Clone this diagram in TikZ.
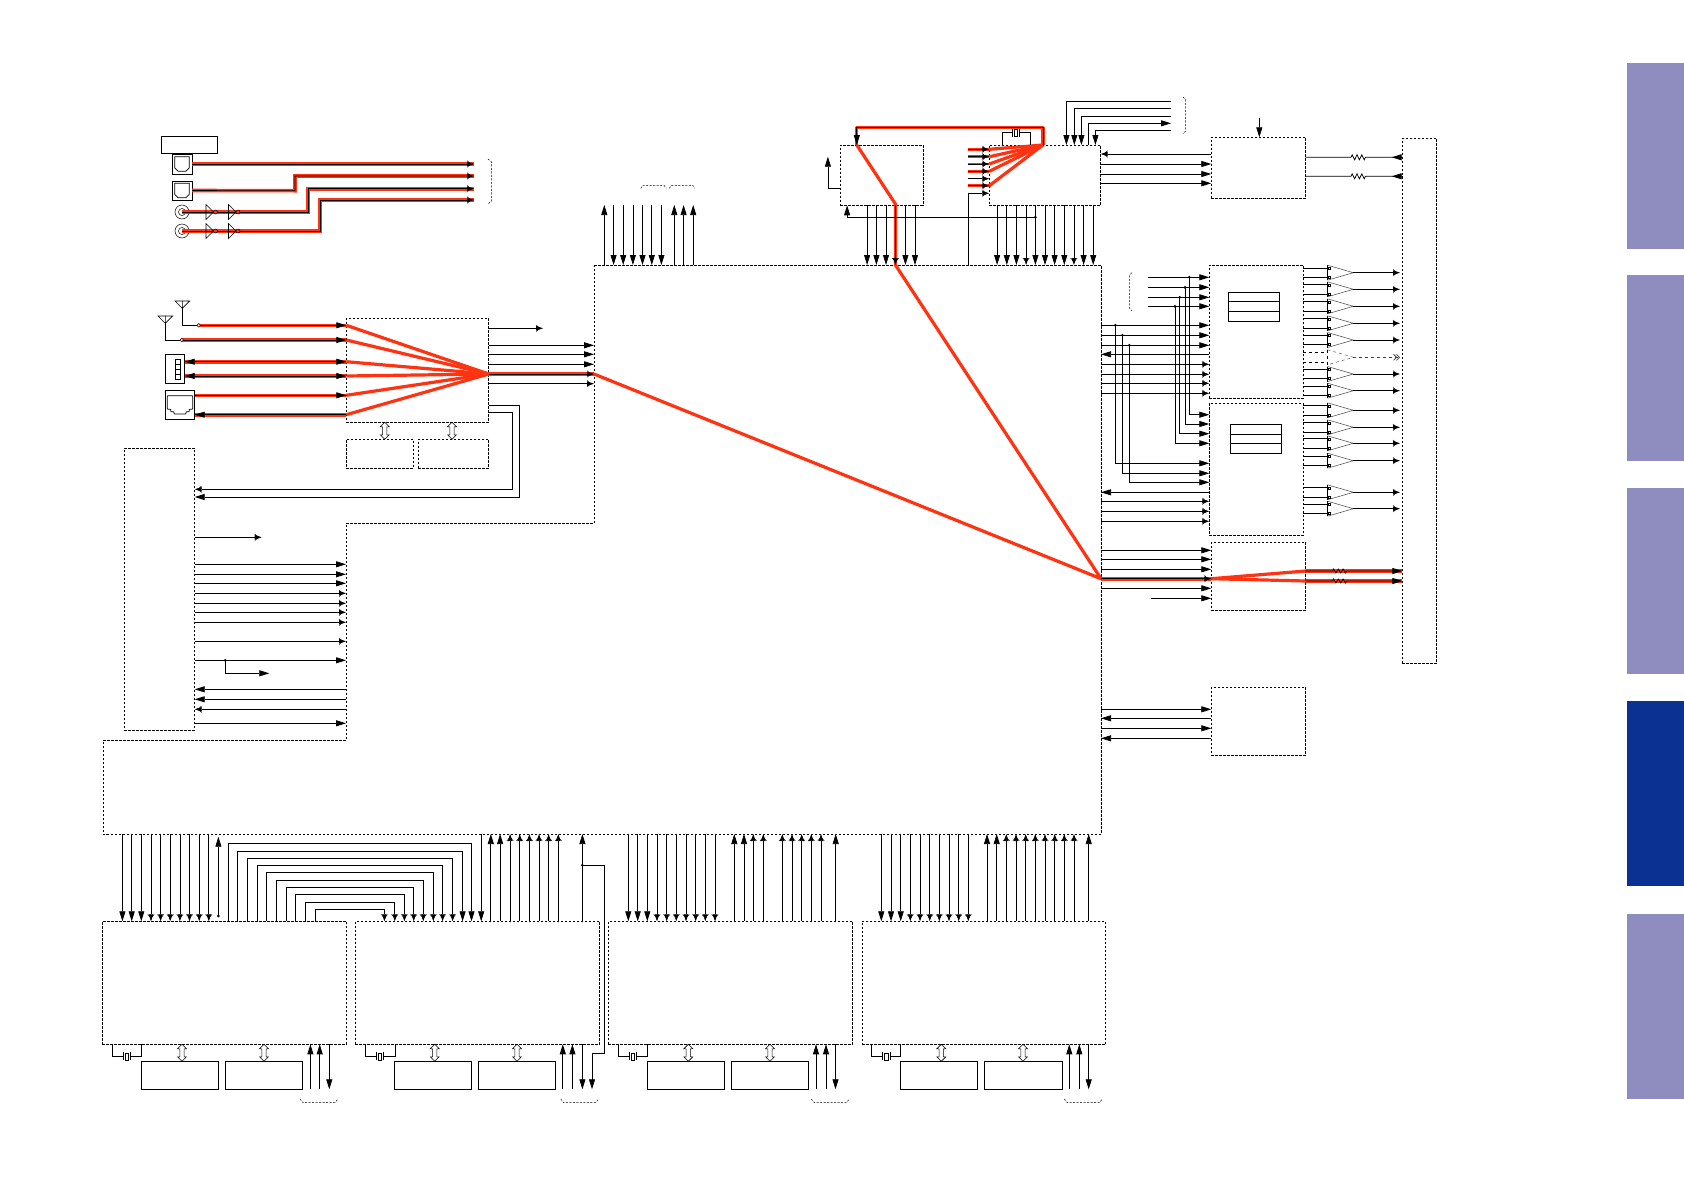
\documentclass[tikz,border=0pt]{standalone}
\usepackage{xcolor}
\definecolor{myred}{RGB}{255, 51, 17}
\definecolor{mytab}{RGB}{143, 141, 192}
\definecolor{mytabd}{RGB}{11, 49, 146}
\usetikzlibrary{arrows.meta, positioning, fit}
\tikzset{
    tipf/.tip={Triangle[length=10pt,width=6pt]},
    tipd/.tip={Straight Barb[length=3.5pt,width=6.5pt,line width=.5pt,sep=-4pt]Triangle[length=7pt,width=4.5pt]},
    sigwire/.style={draw, line width=.75pt},
    wiref/.style={sigwire, -{tipf}},
    wired/.style={sigwire, -{tipd}},
    redwire/.style={draw, line width=.6pt, preaction={draw=myred, line width=3.6pt, -}},
    redfan/.style={draw=myred, line width=3.2pt, line join=round},
    dashbox/.style={draw, dash pattern=on 2.5pt off 1.5pt, line width=.7pt, inner sep=0pt, outer sep=0pt},
    solidbox/.style={draw, line width=.75pt, inner sep=0pt, outer sep=0pt},
    bracket/.style={draw, dash pattern=on 2pt off 1.5pt, line width=.5pt},
    xtal/.style={draw, line width=.6pt, minimum width=3.5pt, minimum height=7pt, inner sep=0pt, outer sep=2pt},
    dotnode/.style={fill, circle, inner sep=0pt, minimum size=3pt}
}
\newcommand{\hbus}[3]{\draw[line width=.55pt] (#1,0 |- #2) -- ++(4.5,4.5) -- ++(-2.4,0) -- ([xshift=2.1pt,yshift=4.5pt]#1,0 |- #3) -- ++(2.4,0) -- (#1,0 |- #3) -- ++(-4.5,-4.5) -- ++(2.4,0) -- ([xshift=-2.1pt,yshift=-4.5pt]#1,0 |- #2) -- ++(-2.4,0) -- cycle;}
\begin{document}
\begin{tikzpicture}[x=1pt, y=-1pt]
    \useasboundingbox (0,0) rectangle (1684,1191);
    \foreach \ya/\yb/\col in {62.7/248.7/mytab, 274.7/461/mytab, 488/674/mytab, 701/886/mytabd, 914/1099/mytab}
    {
        \fill[\col] (1627,\ya) rectangle (1684,\yb);
    }
    \coordinate (mainN) at (0,265);
    \coordinate (mainS) at (0,834);
    \coordinate (mainE) at (1101,0);
    \coordinate (mainW) at (594,0);
    \coordinate (stepW) at (346,0);
    \draw[dashbox] (mainW |- mainN) -- (mainE |- mainN) -- (mainE |- mainS) -- (103,834) -- (103,740) -- (346,740) -- (stepW |- 0,523) -- (mainW |- 0,523) -- cycle;

    \node[solidbox, fit={(161,136) (217,153)}] (cardslot) {};
    \node[solidbox, fit={(172,154) (192,174)}] (optA) {};
    \node[solidbox, fit={(172,181) (192,200)}] (optB) {};
    \node[solidbox, fit={(165.3,354.3) (184.7,383.3)}] (usbport) {};
    \node[solidbox, fit={(165.3,390.3) (194.7,419.3)}] (lanport) {};
    \node[solidbox, fit={(175.3,359.3) (180,379.3)}] (usbpins) {};
    \node[circle, draw, line width=.5pt, minimum size=14pt, inner sep=0pt] (coaxA) at (182,212) {};
    \node[circle, draw, line width=.5pt, minimum size=14pt, inner sep=0pt] (coaxB) at (182,231) {};
    \node[dashbox, fit={(346.3,318.3) (488.7,422.3)}] (rfbox) {};
    \node[dashbox, fit={(346.3,439.3) (413.3,468.3)}] (romA) {};
    \node[dashbox, fit={(418.3,439.3) (488.7,468.3)}] (romB) {};
    \node[dashbox, fit={(124.3,448.3) (194.7,730)}] (pwrbox) {};
    \node[dashbox, fit={(840.4,145) (922.9,205.3)}] (dspbox) {};
    \node[dashbox, fit={(989.3,145) (1100.7,205.3)}] (codecbox) {};
    \node[dashbox, fit={(1211.3,137.3) (1305.7,198.3)}] (dacbox) {};
    \node[dashbox, fit={(1402.3,138.3) (1436.7,663.3)}] (conn) {};
    \node[dashbox, fit={(1209.3,265) (1303.3,398.3)}] (ampA) {};
    \node[dashbox, fit={(1209.3,403.3) (1303.3,535.3)}] (ampB) {};
    \node[dashbox, fit={(1211.3,542.3) (1305.7,610.3)}] (hpbox) {};
    \node[dashbox, fit={(1211.3,687.3) (1305.7,755.3)}] (subbox) {};
    \node[solidbox, fit={(1228.3,292.3) (1279.3,321.3)}] (tableA) {};
    \node[solidbox, fit={(1230.3,424.3) (1281.7,453.3)}] (tableB) {};
    \draw[sigwire] (tableA.west |- 0,301.3) -- (tableA.east |- 0,301.3) (tableA.west |- 0,311.3) -- (tableA.east |- 0,311.3);
    \draw[sigwire] (tableB.west |- 0,434.3) -- (tableB.east |- 0,434.3) (tableB.west |- 0,443.3) -- (tableB.east |- 0,443.3);
    \draw[sigwire] (usbpins.west |- 0,364.3) -- (usbpins.east |- 0,364.3) (usbpins.west |- 0,369.3) -- (usbpins.east |- 0,369.3) (usbpins.west |- 0,374.3) -- (usbpins.east |- 0,374.3);
    \draw[sigwire, rounded corners=.6pt] (167.3,395.7) -- (192.7,395.7) -- (192.7,409.3) -- (189.3,409.3) -- (189.3,411.7) -- (186,411.7) -- (186,414) -- (174,414) -- (174,411.7) -- (170.7,411.7) -- (170.7,409.3) -- (167.3,409.3) -- cycle;
    \foreach \opt in {optA, optB}
    {
        \draw[sigwire, shift={(\opt.center)}] (-7.2,-7.2) -- (7.2,-7.2) -- (7.2,4) -- (4,7.2) -- (-4,7.2) -- (-7.2,4) -- cycle;
    }
    \foreach \coax in {coaxA, coaxB}
    {
        \draw[line width=.5pt] (\coax.center) circle (3.5pt);
    }

    % red signal path
    \draw[redfan] (mainW |- 0,374) -- (mainE |- 0,578.7) -- (895.4,265) -- (895.4,204) -- (856.8,145);
    \draw[redfan] (856.8,145) -- (856.8,127.7) -- (1042.9,127.7) -- (1042.9,145);
    \foreach \py in {149.3,156.7,164,171.3,185.7}
    {
        \draw[redfan] (codecbox.west |- 0,\py) -- (1042.9,145);
        \draw[redfan, line width=2.6pt] (967.5,\py) -- (codecbox.west |- 0,\py);
    }
    \foreach \py in {325.3,340,361.7,376,395.3,414.7}
    {
        \draw[redfan] (rfbox.west |- 0,\py) -- (rfbox.east |- 0,374);
    }
    \draw[redfan] (hpbox.west |- 0,578.7) -- (hpbox.east |- 0,571);
    \draw[redfan] (hpbox.west |- 0,578.7) -- (hpbox.east |- 0,581);

    % rear inputs
    \draw[redwire, -{tipd}] (optA.east) -- (474,164);
    \draw[redwire, -{tipd}] (optB.east) -- (295,190.7) -- (295,176) -- (474,176);
    \draw[redwire, -{tipd}] (coaxA.center) -- (308,212) -- (308,188.7) -- (474,188.7);
    \draw[redwire, -{tipd}] (coaxB.center) -- (320,231) -- (320,200) -- (474,200);
    \foreach \py in {212,231}
    {
        \foreach \px in {206,228.5}
        {
            \draw[line width=.6pt] (\px,\py-7.5) -- (\px+7.5,\py) -- (\px,\py+7.5) -- cycle;
            \draw[line width=.5pt, fill=myred] (\px+9.5,\py) circle (2pt);
        }
    }
    \draw[bracket] (488,159) -- (491.5,162) -- (491.5,201) -- (488,204);

    % antennas and network
    \foreach \ant/\ax/\ay/\ex/\ey in {antA/182.3/301/198.7/325.3, antB/165.3/316/181.7/340}
    {
        \coordinate (\ant) at (\ax,\ay+7.3);
        \coordinate (\ant-end) at (\ex,\ey);
        \draw[line width=.6pt] (\ax-7.3,\ay) -- (\ax+7.3,\ay) -- (\ant) -- cycle (\ax,\ay) -- (\ant);
        \draw[sigwire] (\ant) |- (\ant-end);
        \draw[redwire, -{tipf}] (\ant-end) -- (rfbox.west |- \ant-end);
        \draw[line width=.5pt, fill=white] (\ant-end) circle (1.8pt);
    }
    \draw[redwire, {tipf}-{tipf}] (usbport.east |- 0,361.7) -- (rfbox.west |- 0,361.7);
    \draw[redwire, {tipf}-{tipf}] (usbport.east |- 0,376) -- (rfbox.west |- 0,376);
    \draw[redwire, -{tipf}] (lanport.east |- 0,395.3) -- (rfbox.west |- 0,395.3);
    \draw[redwire, -{tipf}] (rfbox.west |- 0,414.7) -- (lanport.east |- 0,414.7);
    \draw[wired] (rfbox.east |- 0,328.3) -- (543,328.3);
    \foreach \py in {345.3,354.3,364.3}
    {
        \draw[wiref] (rfbox.east |- 0,\py) -- (mainW |- 0,\py);
    }
    \draw[redwire, -{tipd}] (rfbox.east |- 0,374) -- (mainW |- 0,374);
    \draw[wired] (rfbox.east |- 0,383.7) -- (mainW |- 0,383.7);
    \hbus{384.7}{rfbox.south}{romA.north}
    \hbus{452}{rfbox.south}{romB.north}
    \draw[wiref] (rfbox.east |- 0,405.7) -- (519.3,405.7) -- (519.3,497) -- (pwrbox.east |- 0,497);
    \draw[wired] (rfbox.east |- 0,412.7) -- (512.7,412.7) -- (512.7,489.3) -- (pwrbox.east |- 0,489.3);

    % power block
    \draw[wired] (pwrbox.east |- 0,537.3) -- (261.7,537.3);
    \foreach \py/\tp in {564.3/f, 574.3/f, 583.3/f, 593.3/d, 603.3/d, 612.3/d, 622.3/d, 641.3/d, 660.3/f, 723.3/f}
    {
        \draw[wire\tp] (pwrbox.east |- 0,\py) -- (stepW |- 0,\py);
    }
    \foreach \py/\tp in {689.3/f, 699.3/f, 709.3/d}
    {
        \draw[wire\tp] (stepW |- 0,\py) -- (pwrbox.east |- 0,\py);
    }
    \node[dotnode] (pwrdot) at (225.3,660.3) {};
    \draw[wiref] (pwrdot.center) |- (269.3,673.3);

    % top of main block
    \foreach \px in {604.3,674.3,683.6,693.2}
    {
        \draw[wiref] (\px,0 |- mainN) -- (\px,205);
    }
    \foreach \px in {613.6,623.2,632.9,642.5,651.8,661.4}
    {
        \draw[wiref] (\px,205) -- (\px,0 |- mainN);
    }
    \draw[bracket] (640.7,188.3) -- (643,185.3) -- (664,185.3) -- (666.4,188.3);
    \draw[bracket] (669.3,188.3) -- (671.6,185.3) -- (692.7,185.3) -- (695,188.3);
    \foreach \px/\tp in {867.1/f, 876.4/f, 886/f, 905.4/f, 915/f}
    {
        \draw[wire\tp] (\px,0 |- dspbox.south) -- (\px,0 |- mainN);
    }
    \draw[wired] (895.4,0 |- dspbox.south) -- (895.4,0 |- mainN);
    \foreach \px/\tp in {997.1/f, 1006.8/f, 1016.4/f, 1026.1/d, 1035.4/f, 1045/f, 1054.6/f, 1064.3/f, 1073.9/d, 1083.6/f, 1093.2/f}
    {
        \draw[wire\tp] (\px,0 |- codecbox.south) -- (\px,0 |- mainN);
    }
    \draw[sigwire, -{tipf}] (1042.9,145) -- (1042.9,127.7) -- (856.8,127.7) -- (856.8,145);
    \draw[wiref] (dspbox.west |- 0,188.3) -- (827.9,188.3) -- (827.9,156.7);
    \node[dotnode] (codecdot) at (1035.4,217.3) {};
    \draw[wiref] (codecdot.center) -- (847.1,217.3) -- (847.1,0 |- dspbox.south);
    \draw[wired] (968.2,0 |- mainN) |- (codecbox.west |- 0,193.3);
    \foreach \py in {149.3,156.7,164,171.3,178.7,185.7}
    {
        \draw[wired] (967.5,\py) -- (codecbox.west |- 0,\py);
    }
    \node[xtal] (codecx) at (1015.7,132.7) {};
    \draw[sigwire, line width=.6pt] (1001.8,0 |- codecbox.north) |- (codecx.west);
    \draw[sigwire, line width=.6pt] (1030.7,0 |- codecbox.north) |- (codecx.east);
    \draw[line width=.6pt] (codecx.west) ++(0,-4) -- ++(0,8) (codecx.east) ++(0,-4) -- ++(0,8);
    \foreach \px/\py in {1066.4/101.7, 1074.3/108.7, 1081.4/116, 1095.4/130.5}
    {
        \draw[wiref] (1171,\py) -| (\px,0 |- codecbox.north);
    }
    \draw[wiref] (1088.2,0 |- codecbox.north) |- (1171,123.3);
    \draw[bracket] (1183,97) -- (1185.7,100) -- (1185.7,131) -- (1183,134);

    % dac and speaker outputs
    \draw[wiref] (1259.3,118.3) -- (1259.3,0 |- dacbox.north);
    \draw[wired] (dacbox.west |- 0,154) -- (codecbox.east |- 0,154);
    \foreach \py in {164,174,183.3}
    {
        \draw[wiref] (codecbox.east |- 0,\py) -- (dacbox.west |- 0,\py);
    }
    \foreach \py in {157.3,176.3}
    {
        \draw[sigwire] (dacbox.east |- 0,\py) -- (1351,\py) -- ++(1.2,-2.5) -- ++(2.4,5) -- ++(2.4,-5) -- ++(2.4,5) -- ++(2.4,-5) -- ++(2.4,5) -- ++(1.2,-2.5) -- (conn.west |- 0,\py);
        \draw[wiref] (conn.west |- 0,\py) -- (1391.7,\py);
    }
    \foreach \py/\blk in {272.7/ampA, 289.3/ampA, 306.3/ampA, 323.3/ampA, 340/ampA, 374/ampA, 390.7/ampA, 410.3/ampB, 427.3/ampB, 443.3/ampB, 460.7/ampB, 492.3/ampB, 508.7/ampB}
    {
        \draw[sigwire] (\blk.east |- 0,\py-4.6) -- (1327.5,\py-4.6);
        \draw[sigwire] (\blk.east |- 0,\py+4.6) -- (1327.5,\py+4.6);
        \draw[sigwire] (1327.5,\py-7.5) -- (1327.5,\py+7.5);
        \draw[line width=.5pt, black!75] (1327.5,\py-7.5) -- (1353.3,\py) -- (1327.5,\py+7.5);
        \draw[line width=.4pt] (1328.5,\py-5.6) rectangle ++(2,2) (1328.5,\py+3.6) rectangle ++(2,2);
        \draw[wired] (1353.3,\py) -- (1400,\py);
    }
    \draw[sigwire, dashed] (ampA.east |- 0,352.7) -- (1327.5,352.7) (ampA.east |- 0,361.9) -- (1327.5,361.9);
    \draw[black!65, line width=.5pt, dashed] (1327.5,349.8) -- (1353.3,357.3) -- (1327.5,364.8);
    \draw[sigwire, dashed] (1327.5,349.8) -- (1327.5,364.8);
    \draw[sigwire, black!75, dashed, -{Straight Barb[length=3pt,width=6pt,sep=-1pt]Straight Barb[length=3pt,width=6pt]}] (1353.3,357.3) -- (1400,357.3);

    % amplifier inputs
    \foreach \py/\px/\yb in {277.3/1189.3/414.7, 287.3/1185/424, 297.3/1179.7/433.7, 306.3/1175/443.3}
    {
        \draw[wiref] (1148.3,\py) -- (ampA.west |- 0,\py);
        \node[dotnode] at (\px,\py) {};
        \draw[wiref] (\px,\py) |- (ampB.west |- 0,\yb);
    }
    \draw[bracket] (1131.7,272.7) -- (1129.3,275.7) -- (1129.3,307.7) -- (1131.7,310.7);
    \foreach \py/\px/\yb in {325.3/1115.3/463.3, 335.3/1122.3/473.3, 345.3/1129.3/482.3}
    {
        \draw[wiref] (mainE |- 0,\py) -- (ampA.west |- 0,\py);
        \node[dotnode] at (\px,\py) {};
        \draw[wiref] (\px,\py) |- (ampB.west |- 0,\yb);
    }
    \draw[wiref] (ampA.west |- 0,354.3) -- (mainE |- 0,354.3);
    \foreach \py in {364.3,374.3,383.3,393.3}
    {
        \draw[wired] (mainE |- 0,\py) -- (ampA.west |- 0,\py);
    }
    \draw[wiref] (ampB.west |- 0,492.3) -- (mainE |- 0,492.3);
    \foreach \py in {501.3,511.3,521.3}
    {
        \draw[wired] (mainE |- 0,\py) -- (ampB.west |- 0,\py);
    }
    \foreach \py in {550.3,559.3,569.3,588.3}
    {
        \draw[wiref] (mainE |- 0,\py) -- (hpbox.west |- 0,\py);
    }
    \draw[redwire, -{tipd}] (mainE |- 0,578.7) -- (hpbox.west |- 0,578.7);
    \draw[wiref] (1151,598.3) -- (hpbox.west |- 0,598.3);
    \foreach \py in {571,581}
    {
        \draw[draw=myred, line width=3.6pt] (hpbox.east |- 0,\py) -- (conn.west |- 0,\py);
        \draw[sigwire, -{tipf}] (hpbox.east |- 0,\py) -- (1332.7,\py) -- ++(.8,-2) -- ++(2.4,4) -- ++(2.4,-4) -- ++(2.4,4) -- ++(2.4,-4) -- ++(2.4,4) -- ++(.8,-2) -- (conn.west |- 0,\py);
    }
    \foreach \py in {709.3,728.3}
    {
        \draw[wiref] (mainE |- 0,\py) -- (subbox.west |- 0,\py);
    }
    \foreach \py in {718.3,738.3}
    {
        \draw[wiref] (subbox.west |- 0,\py) -- (mainE |- 0,\py);
    }

    % tuner blocks
    \foreach \tn/\xa/\xb/\cl/\cr/\cx/\ma/\mb/\mc/\md/\ba/\bb/\ua/\ub/\dn/\ka/\kb in {
        tunerA/102.4/346.5/112.4/141.5/127/141.3/218.4/225.3/302.5/182/264/310.4/319.7/329.3/300/338,
        tunerB/355.2/599.6/365.5/394.8/380/394.8/471.5/478.4/555.6/434.7/517/562.8/572.4/582.4/560.7/598.6,
        tunerC/608.3/852.7/618.3/647.5/633/647.3/724.3/731.3/808.7/688.3/770/816/826/835.5/811.3/849.3,
        tunerD/862/1105.7/871.7/900.7/886.2/900.7/977.7/984.3/1062.7/941.3/1023/1069.3/1079.3/1088.7/1064.3/1102.3}
    {
        \node[dashbox, fit={(\xa,921.3) (\xb,1044.3)}] (\tn) {};
        \node[solidbox, fit={(\ma,1061.3) (\mb,1089.3)}] (\tn-ma) {};
        \node[solidbox, fit={(\mc,1061.3) (\md,1089.3)}] (\tn-mb) {};
        \node[xtal] (\tn-x) at (\cx,1056.3) {};
        \draw[sigwire, line width=.6pt] (\cl,0 |- \tn.south) |- (\tn-x.west);
        \draw[sigwire, line width=.6pt] (\cr,0 |- \tn.south) |- (\tn-x.east);
        \draw[line width=.6pt] (\tn-x.west) ++(0,-4) -- ++(0,8) (\tn-x.east) ++(0,-4) -- ++(0,8);
        \hbus{\ba}{\tn.south}{\tn-ma.north}
        \hbus{\bb}{\tn.south}{\tn-mb.north}
        \draw[wiref] (\ua,0 |- \tn-mb.south) -- (\ua,0 |- \tn.south);
        \draw[wiref] (\ub,0 |- \tn-mb.south) -- (\ub,0 |- \tn.south);
        \draw[wiref] (\dn,0 |- \tn.south) -- (\dn,0 |- \tn-mb.south);
        \draw[bracket] (\ka,1099) -- (\ka+3,1102.7) -- (\kb-3,1102.7) -- (\kb,1099);
    }
    \foreach \px/\tp/\tn in {122.4/f/tunerA, 131.7/f/tunerA, 141.3/f/tunerA, 151/d/tunerA, 160.6/d/tunerA, 170.2/d/tunerA, 179.9/d/tunerA, 189.5/d/tunerA, 199.2/d/tunerA, 208.8/d/tunerA, 481.2/f/tunerB,
        628.3/f/tunerC, 637.7/f/tunerC, 647.3/f/tunerC, 657/d/tunerC, 666.7/d/tunerC, 676.3/d/tunerC, 686/d/tunerC, 695.7/d/tunerC, 705.3/d/tunerC, 715/d/tunerC,
        881.3/f/tunerD, 891/f/tunerD, 900.7/f/tunerD, 910.3/d/tunerD, 920/d/tunerD, 929.7/d/tunerD, 939.3/d/tunerD, 949/d/tunerD, 958.7/d/tunerD, 968.3/d/tunerD}
    {
        \draw[wire\tp] (\px,0 |- mainS) -- (\px,0 |- \tn.north);
    }
    \foreach \px/\tp/\tn in {490.8/f/tunerB, 500.1/f/tunerB, 510.1/d/tunerB, 519.7/d/tunerB, 529.4/d/tunerB, 539/d/tunerB, 548.6/d/tunerB, 558.3/d/tunerB, 582.4/f/tunerB,
        734.3/f/tunerC, 744/f/tunerC, 753.3/d/tunerC, 763.3/d/tunerC, 782.3/d/tunerC, 792/d/tunerC, 801.7/d/tunerC, 811.3/d/tunerC, 821/d/tunerC, 835.7/f/tunerC,
        987/f/tunerD, 996.7/f/tunerD, 1006.3/d/tunerD, 1016/d/tunerD, 1025.7/d/tunerD, 1035.3/d/tunerD, 1045/d/tunerD, 1054.7/d/tunerD, 1064.3/d/tunerD, 1074/d/tunerD, 1088.7/f/tunerD}
    {
        \draw[wire\tp] (\px,0 |- \tn.north) -- (\px,0 |- mainS);
    }
    \node[dotnode] (tunerAdot) at (218.4,916) {};
    \draw[wiref] (tunerAdot.center) -- (218.4,836.7);
    \foreach \xa/\xb/\py/\tp in {228.8/471.5/843.3/f, 237.7/462.6/851.3/f, 247.7/452.6/858.3/d, 257.7/442.6/865.3/d, 266.7/433.3/872.3/d, 276.6/423.3/880.3/d, 286.3/413.7/887.3/d, 295.6/404.4/894.3/d, 305.6/394.8/902.3/d, 315.6/384.4/909.3/d}
    {
        \draw[wire\tp] (\xa,0 |- tunerA.north) |- (\xb,\py) -- (\xb,0 |- tunerB.north);
    }
    \node[dotnode] (tunerBdot) at (582.4,865.3) {};
    \draw[wiref] (tunerBdot.center) -- (604.5,865.3) -- (604.5,1053.3) -- (592,1053.3) -- (592,0 |- tunerB-mb.south);
\end{tikzpicture}
\end{document}
